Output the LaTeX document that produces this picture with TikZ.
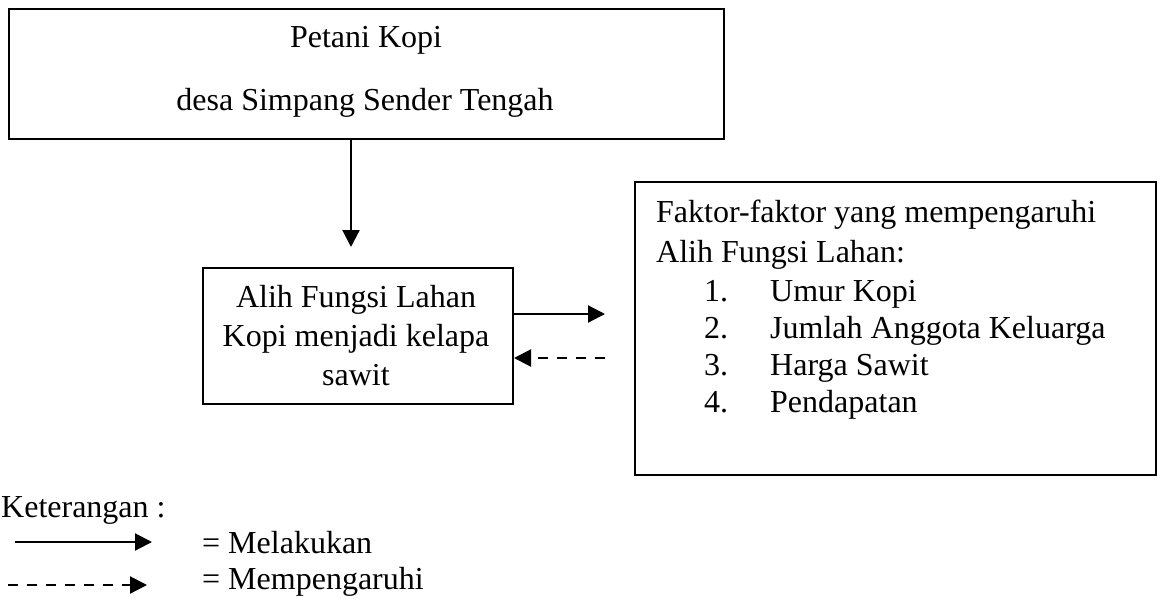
\documentclass[tikz,border=0pt]{standalone}
\usepackage{fontspec}
\setmainfont{Liberation Serif}
\usetikzlibrary{arrows.meta}

\tikzset{
    box/.style = {draw, line width=2pt, inner sep=0pt, anchor=north west},
    txt/.style = {inner sep=0pt, font=\fontsize{32}{38.5}\selectfont},
    arr/.style = {line width=2.2pt, -{Triangle[length=17pt,width=17pt]}},
    dsh/.style = {dash pattern=on 10pt off 9pt}
}

\begin{document}
\begin{tikzpicture}[x=1pt, y=-1pt]
                    \useasboundingbox (0,0) rectangle (1157,598);
                    % boxes
                    \node[box, minimum width=715pt, minimum height=130pt] (petani) at (8,8) {};
                    \node[box, minimum width=310pt, minimum height=136pt] (alih) at (202,267) {};
                    \node[box, minimum width=521pt, minimum height=293pt] (faktor) at (634,181) {};
                    % texts
                    \node[txt, anchor=base] (petani1) at (366,47) {Petani Kopi};
                    \node[txt, anchor=base] (petani2) at (365,110) {desa Simpang Sender Tengah};
                    \node[txt, anchor=base] (alih1) at (356,307) {Alih Fungsi Lahan};
                    \node[txt, anchor=base] (alih2) at (356,346) {Kopi menjadi kelapa};
                    \node[txt, anchor=base] (alih3) at (356,385) {sawit};
                    \node[txt, anchor=base west] (faktor1) at (656,222) {Faktor-faktor yang mempengaruhi};
                    \node[txt, anchor=base west] (faktor2) at (656,262) {Alih Fungsi Lahan:};
                    \foreach \i/\t [count=\n] in {301/Umur Kopi, 338/Jumlah Anggota Keluarga, 375/Harga Sawit, 412/Pendapatan}
                        {\node[txt, anchor=base west] (num\n) at (704,\i) {\n.};
                         \node[txt, anchor=base west] (item\n) at (770,\i) {\t};}
                    % connectors
                    \coordinate (downtip) at (351,247);
                    \coordinate (righttip) at (605,314);
                    \coordinate (dashstart) at (605,358);
                    \draw[arr] (petani.south -| downtip) -- (downtip);
                    \draw[arr] (alih.east |- righttip) -- (righttip);
                    \draw[arr, dsh] (dashstart) -- (alih.east |- dashstart);
                    % legend
                    \node[txt, anchor=base west] (ket) at (1,517) {Keterangan :};
                    \coordinate (solida) at (15,542);
                    \coordinate (solidb) at (152,542);
                    \coordinate (dasha) at (8,585);
                    \coordinate (dashb) at (147,585);
                    \draw[arr] (solida) -- (solidb);
                    \draw[arr, dsh] (dasha) -- (dashb);
                    \node[txt, anchor=base west] (melakukan) at (202,553) {= Melakukan};
                    \node[txt, anchor=base west] (pengaruh) at (202,589) {= Mempengaruhi};
                \end{tikzpicture}
\end{document}
